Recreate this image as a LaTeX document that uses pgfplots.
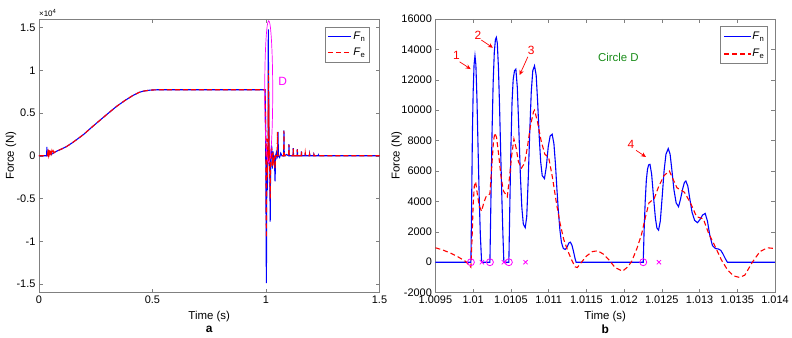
\documentclass[border=0pt]{standalone}
\usepackage{pgfplots}
\pgfplotsset{compat=1.18}
\usepackage{fontspec}
\setmainfont{Liberation Sans}
\usetikzlibrary{arrows.meta}
\definecolor{fnblue}{rgb}{0,0,1}
\definecolor{fered}{rgb}{1,0,0}
\definecolor{cmag}{rgb}{1,0,1}
\definecolor{cgreen}{rgb}{0.1,0.55,0.1}
\tikzset{ann/.style={fered, line width=0.7pt, -{Stealth[length=5bp,width=4.5bp]}},
         num/.style={fered, font=\fontsize{12}{13}\selectfont}}
\pgfplotsset{
  myax/.style={
    scale only axis, height=274bp, clip mode=individual,
    axis line style={black!50},
    every tick/.append style={black!50, line width=0.4pt},
    major tick length=4bp, tick align=inside,
    ticklabel style={font=\fontsize{11}{13}\selectfont, text=black},
    /pgf/number format/assume math mode=true,
    scaled ticks=false,
    label style={font=\fontsize{11.5}{13}\selectfont},
    xlabel style={at={(axis description cs:0.5,0)}, anchor=center, yshift=-24bp},
    legend style={at={(1,1)}, anchor=north east, draw=black!50, fill=white,
      font=\fontsize{11}{12}\selectfont, inner xsep=2bp, inner ysep=3bp,
      row sep=3bp, cells={anchor=west}},
    legend cell align=left,
  },
}
\begin{document}
\begin{tikzpicture}
%%%%%%%%%%%%%%%%%%%% (a)
\begin{axis}[myax, at={(39bp,43bp)}, anchor=south west, width=341bp,
  xmin=0, xmax=1.5, ymin=-16000, ymax=16000,
  xtick={0,0.5,1,1.5}, xticklabels={0,0.5,1,1.5},
  ytick={-15000,-10000,-5000,0,5000,10000,15000},
  yticklabels={-1.5,-1,-0.5,0,0.5,1,1.5},
  xlabel={Time (s)}, ylabel={Force (N)},
  ylabel style={at={(axis description cs:-0.082,0.5)}, anchor=center},
  legend style={xshift=-10bp, yshift=-8bp},
]
\addlegendimage{legend image code/.code={\draw[fnblue, line width=1.1pt] (0bp,0bp) -- (23bp,0bp);}}
\addlegendentry{\textit{F}\textsubscript{n}}
\addlegendimage{legend image code/.code={\draw[fered, line width=1.1pt, dash pattern=on 5bp off 3bp] (0bp,0bp) -- (23bp,0bp);}}
\addlegendentry{\textit{F}\textsubscript{e}}
\addplot[forget plot, color=fnblue, line width=1.1pt] coordinates {
(0,0) (0.034,0) (0.035,1050) (0.036,0) (0.04,60) (0.045,120) (0.05,260) (0.055,140) (0.06,320)
(0.063,300) (0.07,420) (0.08,560) (0.1,800) (0.122,1090) (0.15,1580) (0.195,2460) (0.23,3280)
(0.268,4140) (0.305,4970) (0.342,5780) (0.38,6490) (0.415,7070) (0.44,7400) (0.459,7560)
(0.49,7680) (0.52,7720) (0.7,7720) (0.9,7720) (0.996,7720) (0.9985,3000) (1.0017,-14900)
(1.004,1000) (1.006,-4000) (1.0085,500) (1.0097,0) (1.01002,13580) (1.01011,0) (1.01022,0)
(1.01031,14790) (1.01041,0) (1.01047,0) (1.01057,12700) (1.01069,2270) (1.01081,12920)
(1.01095,5500) (1.01105,8420) (1.01136,0) (1.01225,0) (1.01234,6440) (1.01246,2110)
(1.01259,7470) (1.01272,3650) (1.01282,5340) (1.01307,3210) (1.01337,0) (1.0145,0)
(1.017,-2000) (1.0185,-7700) (1.0205,0) (1.025,1200) (1.028,-1500) (1.031,500) (1.034,-800)
(1.037,0) (1.040,-3000) (1.042,0) (1.046,400) (1.049,-200) (1.052,0) (1.053,2800) (1.0545,0)
(1.06,-200) (1.065,300) (1.07,0) (1.078,0) (1.079,2960) (1.0805,0) (1.09,150) (1.1,0)
(1.101,1370) (1.1025,0) (1.119,0) (1.12,900) (1.1215,0) (1.137,0) (1.138,790) (1.1395,0)
(1.155,0) (1.156,510) (1.1575,0) (1.172,0) (1.173,350) (1.1745,0) (1.191,0) (1.192,230)
(1.1935,0) (1.21,0) (1.211,150) (1.2125,0) (1.23,0) (1.231,100) (1.2325,0) (1.5,0)
};
\addplot[forget plot, color=fered, line width=1.1pt, dash pattern=on 5bp off 3bp] coordinates {
(0,0) (0.036,0) (0.04,500) (0.042,100) (0.045,700) (0.048,200) (0.051,650) (0.054,250)
(0.057,600) (0.06,300) (0.063,550) (0.066,350) (0.07,450) (0.08,560) (0.1,800) (0.122,1090)
(0.15,1580) (0.195,2460) (0.23,3280) (0.268,4140) (0.305,4970) (0.342,5780) (0.38,6490)
(0.415,7070) (0.44,7400) (0.459,7560) (0.49,7680) (0.52,7720) (0.7,7720) (0.9,7720)
(0.996,7720) (0.9985,4000) (1.0017,-9600) (1.004,2000) (1.006,-2500) (1.0085,0) (1.0095,950)
(1.00997,-330) (1.01003,5300) (1.01011,3360) (1.01029,8500) (1.01045,4300) (1.01054,8100)
(1.01064,6200) (1.01081,10000) (1.0111,4000) (1.01138,-350) (1.01165,750) (1.01198,-590)
(1.0126,6000) (1.01296,3000) (1.01353,-1000) (1.0139,950) (1.016,-1500) (1.0185,-5000)
(1.0205,0) (1.025,900) (1.028,-1200) (1.031,400) (1.034,-600) (1.037,0) (1.040,-1500)
(1.042,0) (1.049,0) (1.0505,2780) (1.052,0) (1.06,0) (1.078,0) (1.079,2900) (1.0805,0)
(1.1,0) (1.101,1300) (1.1025,0) (1.119,0) (1.12,850) (1.1215,0) (1.137,0) (1.138,750)
(1.1395,0) (1.155,0) (1.156,480) (1.1575,0) (1.172,0) (1.173,330) (1.1745,0) (1.191,0)
(1.192,210) (1.1935,0) (1.21,0) (1.211,140) (1.2125,0) (1.5,0)
};
\draw[cmag, line width=0.7pt] (axis cs:1.012,7500) ellipse [x radius=4bp, y radius=71bp];
\node[cmag, font=\fontsize{12}{13}\selectfont] at (axis cs:1.0735,8675) {D};
\node[anchor=south west, inner sep=0pt, font=\fontsize{8}{9}\selectfont, yshift=2bp] at (rel axis cs:0,1) {×10\textsuperscript{4}};
\node[font=\bfseries\fontsize{12}{13}\selectfont, yshift=-37bp] at (rel axis cs:0.5,0) {a};
\end{axis}
%%%%%%%%%%%%%%%%%%%% (b)
\begin{axis}[myax, at={(436bp,43bp)}, anchor=south west, width=340bp,
  xmin=1.0095, xmax=1.014, ymin=-2000, ymax=16000,
  xtick={1.0095,1.01,1.0105,1.011,1.0115,1.012,1.0125,1.013,1.0135,1.014},
  xticklabels={1.0095,1.01,1.0105,1.011,1.0115,1.012,1.0125,1.013,1.0135,1.014},
  ytick={-2000,0,2000,4000,6000,8000,10000,12000,14000,16000},
  yticklabels={-2000,0,2000,4000,6000,8000,10000,12000,14000,16000},
  xlabel={Time (s)}, ylabel={Force (N)},
  ylabel style={at={(axis description cs:-0.114,0.5)}, anchor=center},
]
\addplot[color=fnblue, line width=1.1pt] coordinates {
(1.0095,0) (1.00997,0) (1.00998,4000) (1.00999,8500) (1.010000,11200) (1.010012,13000)
(1.010024,13580) (1.010036,13000) (1.010050,10800) (1.010065,7500) (1.010080,4300)
(1.010095,1800) (1.010112,0) (1.010222,0) (1.010235,4000) (1.010250,8500) (1.010265,11800)
(1.010280,13800) (1.010295,14650) (1.010307,14790) (1.010320,14400) (1.010335,12800)
(1.010350,10200) (1.010365,7200) (1.010380,4300) (1.010395,1700) (1.010407,0) (1.010473,0)
(1.010485,3500) (1.010500,7500) (1.010515,10500) (1.010530,12000) (1.010548,12600)
(1.010566,12700) (1.010585,11500) (1.010605,8800) (1.010625,5800) (1.010645,3600)
(1.010665,2500) (1.010690,2270) (1.010710,3000) (1.010730,5500) (1.010750,8600)
(1.010770,11200) (1.010790,12600) (1.010813,12920) (1.010835,12300) (1.010855,10500)
(1.010875,8300) (1.010895,6600) (1.010915,5700) (1.010945,5500) (1.010970,6300)
(1.010995,7600) (1.011020,8300) (1.011047,8420) (1.011070,7800) (1.011090,6500)
(1.011110,4800) (1.011130,3300) (1.011150,2100) (1.011170,1300) (1.011195,900)
(1.011220,840) (1.011245,1000) (1.011270,1280) (1.011289,1320) (1.011310,1100)
(1.011330,700) (1.011350,250) (1.011364,0) (1.012254,0) (1.012265,2000) (1.012280,4000)
(1.012295,5400) (1.012310,6100) (1.012325,6400) (1.012343,6440) (1.012365,5800)
(1.012390,4300) (1.012415,2900) (1.012435,2250) (1.012457,2110) (1.012480,2700)
(1.012505,4300) (1.012530,6000) (1.012555,7100) (1.012585,7470) (1.012610,7100)
(1.012635,6000) (1.012660,4800) (1.012690,3900) (1.012722,3650) (1.012750,4200)
(1.012780,4900) (1.012800,5250) (1.012819,5340) (1.012845,5000) (1.012870,4200)
(1.012900,3300) (1.012935,2750) (1.012973,2600) (1.013005,2800) (1.013040,3100)
(1.013075,3210) (1.013105,2700) (1.013135,1800) (1.013171,1100) (1.013210,900)
(1.013250,870) (1.013282,780) (1.013310,550) (1.013340,250) (1.013369,0) (1.014,0)
};
\addplot[color=fered, line width=1.1pt, dash pattern=on 5bp off 3bp] coordinates {
(1.0095,950) (1.00960,800) (1.00970,600) (1.00980,350) (1.00990,50) (1.00997,-330)
(1.009985,1500) (1.01000,3800) (1.010015,5000) (1.010033,5300) (1.010055,4500)
(1.010080,3700) (1.010112,3360) (1.010140,3900) (1.010170,4300) (1.010200,4400)
(1.010222,4500) (1.010245,6200) (1.010270,8000) (1.010288,8500) (1.010310,8200)
(1.010340,7000) (1.010370,5600) (1.010400,4700) (1.010452,4300) (1.010480,5500)
(1.010510,7000) (1.010540,8100) (1.010570,7500) (1.010600,6600) (1.010640,6200)
(1.010680,6500) (1.010720,7600) (1.010760,9000) (1.010800,9900) (1.010813,10000)
(1.010850,9300) (1.010900,8000) (1.010950,7100) (1.011000,6900) (1.011050,5600)
(1.011100,4000) (1.011150,2600) (1.011200,1500) (1.011250,800) (1.011300,200)
(1.011350,-300) (1.011380,-350) (1.011420,-100) (1.011500,400) (1.011580,700)
(1.011650,750) (1.011720,550) (1.011800,150) (1.011880,-350) (1.011980,-590)
(1.012050,-300) (1.012100,50) (1.012170,900) (1.012230,1800) (1.012280,2900)
(1.012330,3900) (1.012400,4200) (1.012460,5000) (1.012530,5700) (1.012600,6000)
(1.012700,4900) (1.012800,4600) (1.012880,3900) (1.012960,3000) (1.013050,2850)
(1.013120,1900) (1.013210,1000) (1.013290,150) (1.013370,-500) (1.013450,-900)
(1.013530,-1000) (1.013600,-850) (1.013700,0) (1.013800,700) (1.013900,950) (1.014000,900)
};
\addplot[only marks, mark=o, mark size=3.5bp, cmag, mark options={line width=0.8pt}]
  coordinates {(1.00997,0) (1.010222,0) (1.010473,0) (1.012254,0)};
\addplot[only marks, mark=x, mark size=3bp, cmag, mark options={line width=0.8pt}]
  coordinates {(1.010116,0) (1.010407,0) (1.010694,0) (1.012462,0)};
\draw[ann] (axis cs:1.009821,13184) -- (axis cs:1.009967,12703);
\node[num] at (axis cs:1.009778,13630) {1};
\draw[ann] (axis cs:1.010108,14615) -- (axis cs:1.010262,14107);
\node[num] at (axis cs:1.010063,14944) {2};
\draw[ann] (axis cs:1.010725,13513) -- (axis cs:1.010615,12310);
\node[num] at (axis cs:1.010769,13955) {3};
\draw[ann] (axis cs:1.012158,7363) -- (axis cs:1.012290,6922);
\node[num] at (axis cs:1.012092,7759) {4};
\node[cgreen, font=\fontsize{11.5}{13}\selectfont] at (axis cs:1.011924,13494) {Circle D};
\node[font=\bfseries\fontsize{12}{13}\selectfont, yshift=-37bp] at (rel axis cs:0.5,0) {b};
% legend box for panel b
\draw[black!50, fill=white, line width=0.4pt] (rel axis cs:0.838,0.974) rectangle (rel axis cs:0.976,0.839);
\draw[fnblue, line width=1.1pt] (rel axis cs:0.850,0.935) -- (rel axis cs:0.928,0.935);
\node[anchor=west, inner sep=1bp, font=\fontsize{11}{12}\selectfont] at (rel axis cs:0.930,0.935) {\textit{F}\textsubscript{n}};
\draw[fered, line width=1.1pt, dash pattern=on 5bp off 3bp] (rel axis cs:0.850,0.872) -- (rel axis cs:0.928,0.872);
\node[anchor=west, inner sep=1bp, font=\fontsize{11}{12}\selectfont] at (rel axis cs:0.930,0.872) {\textit{F}\textsubscript{e}};
\end{axis}
\useasboundingbox (0,0) rectangle (792bp,336bp);
\end{tikzpicture}
\end{document}
